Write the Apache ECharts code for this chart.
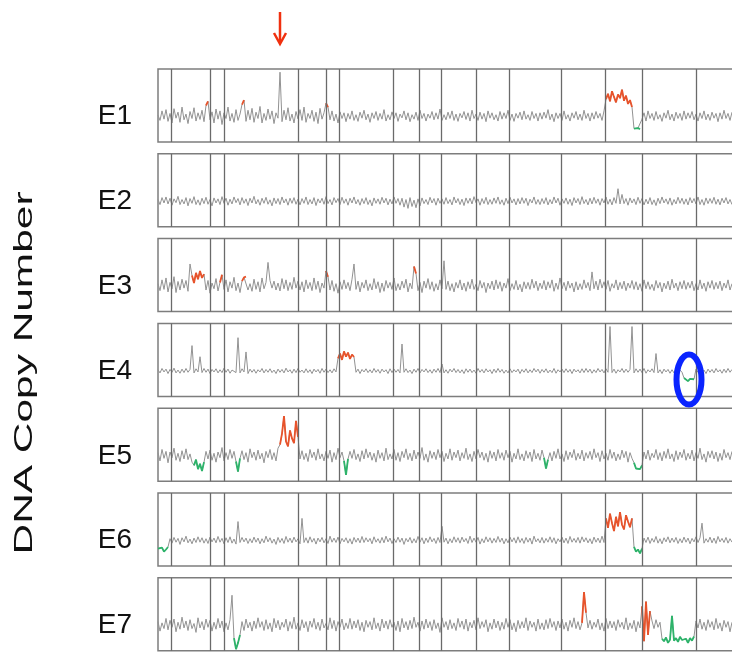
<!DOCTYPE html>
<html><head><meta charset="utf-8">
<script src="https://cdn.jsdelivr.net/npm/echarts@6/dist/echarts.min.js"></script>
<style>html,body{margin:0;padding:0;background:#fff}#c{width:732px;height:652px}</style>
</head><body><div id="c"></div>
<script>
// probe spacing (genome position units per probe) and chromosome boundaries (same units)
const STEP = 2;
const boundaries = [13,52,66,140,168,181,235,261,283,318,351,403,447,484,538];
const sampleNames = ['E1','E2','E3','E4','E5','E6','E7'];
const axisTitle = 'DNA Copy Number';

// log-ratio values x100, one per probe
const E1 = [5,-12,18,-8,22,-15,10,-20,25,-5,14,-18,30,-10,8,-22,16,-6,28,-14,12,-9,20,-16,
35,48,-10,15,-20,24,-8,18,-25,12,-6,30,-14,10,-18,22,-12,8,38,52,-15,20,-10,26,
-18,14,-6,32,-20,10,-12,24,-8,18,-22,12,-5,140,-16,20,-10,28,-14,8,-20,16,-7,22,
-12,30,-18,10,-6,20,-15,14,-22,26,-8,12,42,30,-10,18,-14,8,-20,15,-6,12,-16,10,
-8,18,-12,6,-15,14,-5,20,-10,8,-18,12,-6,16,-12,10,-8,22,-14,6,-10,15,-6,12,
-15,8,-4,18,-10,12,-16,6,-8,14,-12,20,-6,10,-14,8,-5,16,-10,12,-8,24,-12,6,
-10,14,-6,18,-12,8,-15,10,-4,16,-9,12,-14,20,-6,8,-12,14,-8,10,-16,18,-5,12,
-10,6,-14,16,-8,12,-6,20,-12,8,-15,10,-5,14,-10,18,-8,6,-12,16,-6,10,-14,12,
-8,14,-5,22,-10,8,-16,12,-6,10,-12,18,-8,6,-14,12,-5,16,-10,8,-12,20,-6,10,
-14,12,-8,16,-5,10,-12,18,55,72,48,80,62,45,70,58,85,50,66,40,52,30,-38,-42,
-36,-40,-8,12,-14,18,-6,10,-12,16,-8,6,-15,12,-5,20,-10,8,-14,14,-6,10,-12,18,
-8,12,-5,16,-10,8,-14,12,-6,18,-10,8,-12,14,-5,10,-16,12,-8,20,-6,10,-12,14];
const E2 = [6,-10,12,-5,14,-8,10,-12,8,-4,16,-10,6,-8,12,-14,9,-6,15,-10,5,-12,10,-7,
13,-9,6,-14,11,-5,8,-10,15,-6,10,-12,7,-8,14,-4,9,-11,12,-6,8,-13,10,-5,
16,-8,6,-12,10,-6,13,-9,5,-14,11,-7,9,-10,14,-5,8,-12,10,-6,12,-9,7,-11,
9,-6,14,-10,6,-8,12,-13,8,-5,10,-9,15,-7,6,-11,12,-4,9,-10,13,-6,8,-12,
10,-5,14,-8,6,-12,9,-7,12,-10,5,-14,11,-6,8,-9,13,-5,10,-11,7,-8,14,-6,
9,-12,10,-18,6,-22,12,-16,4,-20,8,-14,11,-7,6,-10,13,-5,9,-12,10,-6,8,-9,
12,-7,6,-11,14,-5,9,-10,7,-13,11,-6,10,-8,15,-4,8,-12,9,-7,13,-10,6,-9,
11,-6,14,-9,5,-12,10,-7,13,-5,8,-11,9,-8,12,-6,10,-13,7,-5,14,-9,6,-10,
9,-7,12,-11,6,-8,14,-5,10,-12,8,-6,11,-9,7,-13,12,-5,9,-10,15,-7,6,-11,
10,-8,13,-6,8,-12,9,-5,14,-9,7,-11,12,-6,40,-8,22,-7,9,-12,11,-5,8,-10,
13,-6,9,-11,7,-8,12,-10,5,-13,10,-7,14,-5,8,-9,11,-12,6,-8,13,-6,10,-9,
8,-11,12,-5,9,-8,14,-10,6,-12,11,-7,9,-6,13,-9,7,-11,10,-5,12,-8,6,-10];
const E3 = [8,-14,20,-10,26,-18,12,-8,30,-20,15,-12,22,-6,18,-16,70,34,10,42,22,48,26,38,
-12,18,-22,10,-8,24,-15,12,36,-10,20,-18,14,-6,28,-14,10,-20,16,28,30,-12,8,-16,
22,-10,14,-18,26,-8,12,75,18,-6,16,-12,10,-15,24,-8,20,-14,12,-10,28,-6,16,-12,
14,-18,20,-8,12,-14,26,-10,16,-20,10,-6,48,30,-12,18,-16,8,-22,14,-10,20,-8,12,
-14,22,70,-10,16,-18,12,-6,20,-14,8,-12,24,-8,14,-20,10,-16,18,-6,12,-10,26,-14,
8,-12,16,-6,22,-18,10,-8,62,40,-14,12,-20,16,-6,24,-10,14,-16,8,-12,20,-8,80,
-10,16,-14,8,-18,12,-6,20,-12,10,-16,14,-8,22,-10,6,-14,18,-6,12,-20,10,-8,16,
-12,20,-8,14,-16,10,-6,24,-14,8,-10,18,-12,6,-18,14,-8,12,-10,22,-6,16,-14,10,
-8,18,-12,14,-6,20,-16,10,-10,26,-8,12,-14,16,-6,10,-18,14,-12,8,-10,20,-6,12,
-14,45,-8,16,-12,22,-6,14,-10,18,-16,8,-6,20,-12,12,-8,16,-14,10,-6,18,-10,14,
-12,8,-16,20,-8,14,-10,6,-14,18,-6,12,-18,10,-8,16,-12,22,-6,10,-14,14,-8,18,
-10,12,-6,16,-14,8,-12,20,-8,10,-16,14,-6,18,-10,12,-8,16,-14,10,-6,20,-12,8];
const E4 = [4,-6,8,-3,6,-8,5,-4,9,-6,3,-7,6,-5,8,-4,5,80,-6,7,-3,45,-5,8,
-4,6,-8,5,-3,7,-6,4,-5,9,-4,6,-7,3,8,-5,105,-6,7,-3,60,-8,6,-4,
5,-7,4,-3,8,-6,5,-4,7,-5,3,-8,6,-4,5,-6,9,-3,4,-7,6,-5,8,-4,
3,-6,7,-5,4,-8,6,-3,5,-7,8,-4,6,-5,4,-6,7,-3,40,55,35,62,45,58,
38,52,44,-4,6,-8,5,-3,7,-5,4,-6,8,-4,5,-7,6,-3,4,-8,7,-5,6,-4,
5,-6,85,-4,7,-5,3,-8,6,-4,8,-6,5,-3,7,-5,4,-7,6,-4,8,-5,22,-6,
4,-7,6,-3,8,-5,5,-6,4,-8,7,-4,6,-5,3,-7,8,-4,5,-6,7,-3,4,-8,
6,-5,8,-4,5,-7,3,-6,7,-5,4,-3,6,-8,5,-4,7,-6,4,-5,8,-3,6,-7,
5,-4,7,-6,3,-5,8,-7,4,-3,6,-5,7,-4,5,-8,6,-3,4,-6,7,-5,8,-4,
6,-7,4,-5,8,-3,5,-6,7,-4,140,-5,6,-7,4,-3,8,-5,6,-4,5,140,-6,7,
-4,6,-5,8,-7,4,-3,7,-5,55,-6,4,-8,6,-3,5,-7,4,-6,8,-5,3,-4,-22,
-28,-32,-25,-30,-26,6,-4,7,-5,3,-8,6,-4,5,-6,8,-3,4,-7,6,-5,8,-4,5];
const E5 = [10,-16,20,-8,14,-22,12,-6,24,-14,8,-18,16,-10,22,-12,6,-20,-30,-12,-42,-25,-48,-20,
14,-10,18,-14,8,-20,12,-6,26,-16,10,-12,20,-8,14,-18,-50,-8,16,-12,10,-20,22,-6,
12,-14,18,-10,8,-22,14,-6,20,-12,10,-16,24,35,70,125,45,30,80,55,40,110,60,-10,
16,-12,8,-18,20,-6,12,-14,22,-10,6,-16,14,-8,18,-20,10,-12,24,-6,12,-16,-60,-10,
14,-8,20,-12,6,-18,16,-10,22,-6,12,-14,8,-20,18,-8,10,-16,24,-12,6,-10,20,-14,
10,-18,14,-6,22,-12,8,-16,18,-10,12,-8,26,-14,6,-20,16,-8,12,-12,20,-6,14,-18,
8,-10,22,-14,12,-6,18,-16,10,-8,24,-12,6,-18,14,-10,20,-6,12,-14,8,-20,16,-8,
12,-16,20,-8,10,-14,18,-6,14,-20,8,-10,22,-12,6,-16,16,-8,12,-18,20,-10,8,-14,
18,-6,-40,-12,10,-16,14,-8,22,-10,6,-18,16,-12,12,-6,20,-14,8,-10,18,-16,10,-8,
14,-12,22,-6,10,-18,16,-10,8,-14,20,-8,12,-16,6,-12,18,-6,14,-20,10,-8,-22,-40,
-35,-42,-30,12,-10,18,-14,8,-6,20,-12,10,-16,14,-8,22,-10,6,-18,16,-12,12,-6,20,
-14,8,-10,18,-16,10,-8,24,-12,6,-20,14,-6,16,-10,12,-18,8,-14,20,-6,10,-12,14];
const E6 = [-25,-30,-22,-35,-28,-20,6,-8,10,-5,7,-12,9,-4,14,-7,5,-10,8,-6,12,-5,9,-8,
6,-9,11,-4,8,-7,13,-5,7,-10,9,-6,12,-8,5,-11,60,-6,10,-4,8,-9,6,-7,
11,-5,8,-10,6,-7,14,-4,9,-8,5,-12,10,-6,7,-9,13,-5,8,-7,11,-4,6,-10,
70,-6,9,-8,12,-5,7,-11,8,-4,10,-7,6,-9,14,-5,8,-6,11,-10,7,-4,9,-8,
6,-11,10,-5,8,-7,13,-6,9,-4,7,-10,12,-5,6,-8,10,-7,14,-4,8,-9,6,-6,
11,-5,8,-12,7,-4,10,-8,6,-7,13,-5,9,-10,8,-6,12,-4,7,-9,10,-6,45,-5,
8,-10,6,-7,12,-5,9,-8,11,-4,7,-9,14,-6,8,-5,10,-11,6,-7,12,-4,9,-8,
7,-6,13,-5,8,-10,6,-7,11,-4,9,-8,12,-6,7,-9,10,-5,8,-11,14,-4,6,-7,
10,-8,7,-5,12,-6,9,-10,6,-4,11,-7,8,-9,13,-5,7,-6,10,-8,12,-4,9,-7,
6,-10,11,-5,8,-7,14,-6,70,40,85,55,30,75,45,90,50,35,80,60,42,70,-20,-35,
-28,-40,-25,8,-6,11,-9,7,-5,13,-8,6,-10,9,-4,12,-7,8,-5,10,-9,6,-7,11,
-5,8,-10,7,-4,12,-6,9,55,-8,6,-5,11,-7,8,-9,13,-4,7,-6,10,-8,6,-5];
const E7 = [12,-18,8,-10,22,-14,16,-6,20,-20,10,-12,26,-8,14,-16,18,-10,6,-22,24,-8,12,-14,
20,-6,16,-18,10,-12,22,-8,14,-20,8,-14,18,95,-40,-75,-55,-30,12,-16,20,-8,10,-18,
14,-10,24,-6,12,-16,18,-12,8,-20,22,-8,16,-14,10,-6,20,-18,12,-10,26,-12,8,-16,
18,-8,12,-20,14,-6,22,-12,10,-16,20,-8,6,-14,24,-10,16,-18,12,-6,20,-14,8,-10,
22,-12,14,-8,18,-16,10,-20,16,-6,12,-14,24,-10,8,-18,20,-8,14,-12,18,-6,10,-16,
14,-20,22,-8,12,-14,16,-10,26,-6,10,-18,14,-12,20,-8,12,-16,18,-10,8,-22,24,-6,
12,-14,18,-10,8,-16,22,-6,14,-12,20,-18,10,-8,16,-14,24,-10,12,-6,18,-20,8,-12,
20,-8,14,-16,10,-12,22,-6,18,-14,8,-20,16,-10,12,-8,24,-16,14,-6,10,-18,20,-12,
8,-14,18,-10,22,-6,12,-16,14,-8,20,-12,10,-18,16,-6,24,-10,12,-14,8,105,40,-8,
16,-12,10,-6,20,-14,8,-18,22,-10,14,-8,12,-16,18,-6,10,-12,24,-14,8,-10,16,-20,
12,-8,60,-50,75,-30,45,14,-10,18,-6,10,-42,-50,-38,-55,-45,30,-48,-40,-52,-36,-46,-50,
-42,-55,-40,-48,-35,14,-8,20,-12,10,-16,18,-6,12,-14,22,-10,8,-18,16,-6,12,-20,10];

// called segments (probe index ranges): gains (red) and losses (green)
const E1_gain = [[24,25],[42,43],[84,85],[224,237]];
const E1_loss = [[238,241]];
const E2_gain = [];
const E2_loss = [];
const E3_gain = [[17,23],[31,32],[42,44],[84,85],[128,129]];
const E3_loss = [];
const E4_gain = [[90,98]];
const E4_loss = [[263,268]];
const E5_gain = [[61,70]];
const E5_loss = [[18,23],[39,41],[93,95],[193,195],[238,242]];
const E6_gain = [[224,237]];
const E6_loss = [[0,5],[238,242]];
const E7_gain = [[212,214],[242,246]];
const E7_loss = [[38,41],[252,268]];

const signals = [E1,E2,E3,E4,E5,E6,E7];
const gains = [E1_gain,E2_gain,E3_gain,E4_gain,E5_gain,E6_gain,E7_gain];
const losses = [E1_loss,E2_loss,E3_loss,E4_loss,E5_loss,E6_loss,E7_loss];

const chart = echarts.init(document.getElementById('c'), null, {renderer:'canvas'});
const grids=[], xAxes=[], yAxes=[], series=[];
const FONT = '"Liberation Sans", Arial, sans-serif';
sampleNames.forEach((name,k)=>{
  grids.push({left:158, top:69 + k*84.8, width:600, height:73, show:true,
    outerBoundsMode:'none', containLabel:false,
    borderColor:'#7d7d7d', borderWidth:1.5, backgroundColor:'#fff'});
  xAxes.push({gridIndex:k, type:'value', min:0, max:600, show:false});
  yAxes.push({gridIndex:k, type:'value', min:-0.8, max:1.5, interval:0.8,
    axisLine:{show:false}, axisTick:{show:false}, splitLine:{show:false},
    axisLabel:{formatter:v => Math.abs(v)<1e-9 ? name : '', fontSize:28, color:'#111',
      margin:26, fontFamily:FONT, showMaxLabel:false, showMinLabel:false}});
  const sig = signals[k];
  series.push({type:'line', xAxisIndex:k, yAxisIndex:k, silent:true, animation:false,
    symbol:'none', z:2,
    data: sig.map((v,i)=>[i*STEP, v/100]),
    lineStyle:{color:'#929292', width:1},
    markLine:{symbol:'none', silent:true, animation:false, label:{show:false},
      lineStyle:{color:'#6a6a6a', width:1.3, type:'solid'},
      emphasis:{disabled:true},
      data: boundaries.map(b=>({xAxis:b}))}});
  const addSeg = (segs,color)=>segs.forEach(([a,b])=>{
    series.push({type:'line', xAxisIndex:k, yAxisIndex:k, silent:true, animation:false,
      symbol:'none', z:3,
      data: sig.slice(a,b+1).map((v,j)=>[(a+j)*STEP, v/100]),
      lineStyle:{color:color, width:1.8}});
  });
  addSeg(gains[k], '#e8532b');
  addSeg(losses[k], '#2db36a');
});

chart.setOption({animation:false, grid:grids, xAxis:xAxes, yAxis:yAxes, series:series});

// annotations anchored to data positions
const spike = chart.convertToPixel({xAxisIndex:0, yAxisIndex:0}, [61*STEP, 0]);
const ring = chart.convertToPixel({xAxisIndex:3, yAxisIndex:3}, [265.5*STEP, -0.27]);
const ctx = document.createElement('canvas').getContext('2d');
ctx.font = '26px "Liberation Sans"';
const tw = ctx.measureText(axisTitle).width;
const ax = spike[0];
chart.setOption({graphic:[
  {type:'text', x:25, y:373, rotation:Math.PI/2, scaleX:363/tw, scaleY:1,
    style:{text:axisTitle, font:'26px "Liberation Sans"', fill:'#111',
      textAlign:'center', textVerticalAlign:'middle'}},
  {type:'line', shape:{x1:ax, y1:12, x2:ax, y2:43}, style:{stroke:'#f0300f', lineWidth:2.5}},
  {type:'polyline', shape:{points:[[ax-6,33],[ax,44],[ax+6,33]]}, style:{stroke:'#f0300f', lineWidth:2.5, fill:null}},
  {type:'ellipse', shape:{cx:ring[0], cy:ring[1], rx:12.5, ry:25}, style:{stroke:'#0a24ff', lineWidth:6, fill:null}, z:10}
]});
</script></body></html>
